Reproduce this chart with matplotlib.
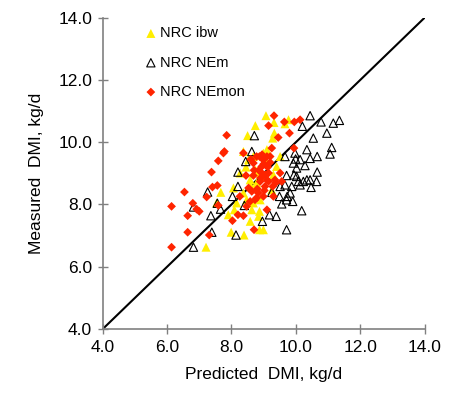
import matplotlib
matplotlib.use("Agg")
import matplotlib.pyplot as plt
import numpy as np

plt.rcParams['font.family'] = ['Liberation Sans', 'DejaVu Sans']

# NRC ibw (yellow filled triangles)
ibw_x = [7.21, 7.99, 8.39, 8.87, 8.99, 8.58, 8.84, 8.87, 7.90, 7.67, 8.09, 8.06, 8.27, 8.37, 8.50,
         8.74, 9.07, 9.32, 9.77, 9.66, 9.33, 9.28, 8.53, 8.68, 9.10, 9.30, 9.25, 8.68, 8.47, 8.37,
         8.89, 8.99, 9.10, 8.78, 8.58, 9.51, 8.16, 8.63, 8.89, 7.54, 9.40, 8.45, 8.75, 9.00, 8.60]
ibw_y = [6.63, 7.11, 7.02, 7.19, 7.19, 7.46, 7.62, 7.78, 7.67, 8.39, 7.83, 8.53, 9.01, 9.70, 10.21,
         10.53, 10.85, 10.63, 10.72, 10.59, 10.29, 10.13, 9.44, 9.54, 9.76, 8.95, 8.47, 8.05, 8.15, 8.37,
         9.01, 9.65, 9.33, 8.69, 8.79, 9.54, 8.05, 7.83, 8.15, 8.05, 9.22, 9.20, 9.10, 8.90, 8.60]

# NRC NEm (black open triangles)
nem_x = [6.82, 7.39, 8.14, 7.36, 7.26, 7.56, 7.66, 6.82, 8.03, 8.20, 8.20, 8.40, 8.44, 8.63, 8.71,
         8.96, 9.18, 9.39, 9.25, 9.49, 9.56, 9.71, 9.71, 9.66, 9.73, 9.82, 9.87, 9.90, 9.94, 9.92,
         9.99, 9.97, 10.02, 10.08, 10.13, 10.18, 10.28, 10.34, 10.23, 10.34, 10.44, 10.47, 10.44, 10.54,
         10.66, 10.66, 10.64, 10.20, 10.44, 10.78, 10.96, 11.11, 11.06, 11.16, 11.35, 9.66, 10.02,
         10.13, 9.71, 9.51]
nem_y = [6.63, 7.11, 7.02, 7.64, 8.40, 8.04, 7.85, 7.92, 8.26, 8.58, 9.04, 7.97, 9.38, 9.70, 10.21,
         7.46, 7.67, 7.62, 8.39, 8.26, 8.02, 7.19, 8.93, 8.63, 8.26, 8.37, 8.58, 8.10, 8.95, 9.33,
         9.46, 9.65, 8.90, 8.74, 9.44, 7.80, 9.25, 9.76, 8.74, 8.79, 8.79, 8.55, 9.48, 10.13,
         9.54, 9.04, 8.74, 10.51, 10.85, 10.65, 10.29, 9.83, 9.62, 10.61, 10.70, 9.54, 9.17,
         8.63, 8.15, 8.58]

# NRC NEmon (red diamonds)
nemon_x = [6.14, 6.14, 6.64, 6.64, 6.54, 6.80, 6.92, 7.00, 7.23, 7.31, 7.41, 7.38, 7.56, 7.59, 7.78,
           7.75, 7.85, 7.59, 8.03, 8.20, 8.37, 8.45, 8.53, 8.70, 8.68, 8.58, 8.78, 8.87, 8.89, 8.94,
           8.99, 9.04, 9.10, 9.15, 9.10, 9.15, 9.32, 9.25, 9.28, 9.35, 9.45, 9.51, 9.56, 9.64, 9.80,
           9.95, 10.13, 9.94, 8.78, 8.68, 8.83, 8.63, 9.10, 9.20, 8.99, 8.73, 8.47, 8.26, 8.37, 9.30,
           8.94, 9.15, 8.85, 9.00, 9.05, 8.90, 9.20, 8.70, 8.95, 9.12, 8.80, 9.38, 8.60, 9.02]
nemon_y = [6.63, 7.94, 7.11, 7.64, 8.40, 8.04, 7.85, 7.78, 8.24, 7.02, 8.56, 9.04, 8.61, 9.40, 9.70,
           9.65, 10.22, 7.97, 7.48, 7.67, 7.64, 8.93, 8.53, 7.19, 8.93, 8.10, 8.21, 9.54, 8.74, 9.22,
           9.43, 8.58, 8.79, 9.01, 7.83, 10.53, 10.85, 9.81, 8.58, 8.79, 10.15, 9.01, 8.74, 10.65, 10.29,
           10.65, 10.72, 9.81, 9.54, 9.33, 8.37, 8.42, 9.54, 9.54, 8.26, 8.15, 7.94, 8.26, 9.65, 8.26,
           9.01, 8.74, 9.10, 9.30, 8.95, 8.85, 9.35, 9.10, 9.60, 9.20, 8.50, 8.70, 9.45, 8.45]

line_x = [4.0, 14.0]
ticks = [4.0, 6.0, 8.0, 10.0, 12.0, 14.0]

fig = plt.figure(figsize=(4.5, 3.98), dpi=100)
ax = fig.add_axes([0.228, 0.173, 0.716, 0.783])

ax.plot(line_x, line_x, color='black', lw=1.5, zorder=1)
ax.scatter(ibw_x, ibw_y, marker='^', s=42, color='#ffee00', edgecolors='none', label='NRC ibw', zorder=2)
ax.scatter(nem_x, nem_y, marker='^', s=36, facecolors='none', edgecolors='black', linewidths=0.8,
           label='NRC NEm', zorder=3)
ax.scatter(nemon_x, nemon_y, marker='D', s=20, color='#ff2400', edgecolors='none', label='NRC NEmon', zorder=4)

ax.set_xlim(4, 14)
ax.set_ylim(4, 14)
ax.set_xticks(ticks)
ax.set_yticks(ticks)
ax.set_xticklabels([f"{t:.1f}" for t in ticks])
ax.set_yticklabels([f"{t:.1f}" for t in ticks])
for s in ['top', 'right']:
    ax.spines[s].set_visible(False)
for s in ['left', 'bottom']:
    ax.spines[s].set_color('#808080')
    ax.spines[s].set_linewidth(1.2)
ax.tick_params(direction='inout', length=7, width=1, color='#808080', labelsize=12.5, pad=4)

ax.set_xlabel('Predicted  DMI, kg/d', fontsize=12.5, labelpad=9)
ax.set_ylabel('Measured  DMI, kg/d', fontsize=12.5, labelpad=10)

leg = ax.legend(loc='upper left', bbox_to_anchor=(0.1, 1.0), frameon=False, fontsize=10.5,
                handletextpad=0.1, labelspacing=1.05, handlelength=1.0, borderaxespad=0.2)

fig.savefig('out.png', dpi=100)
